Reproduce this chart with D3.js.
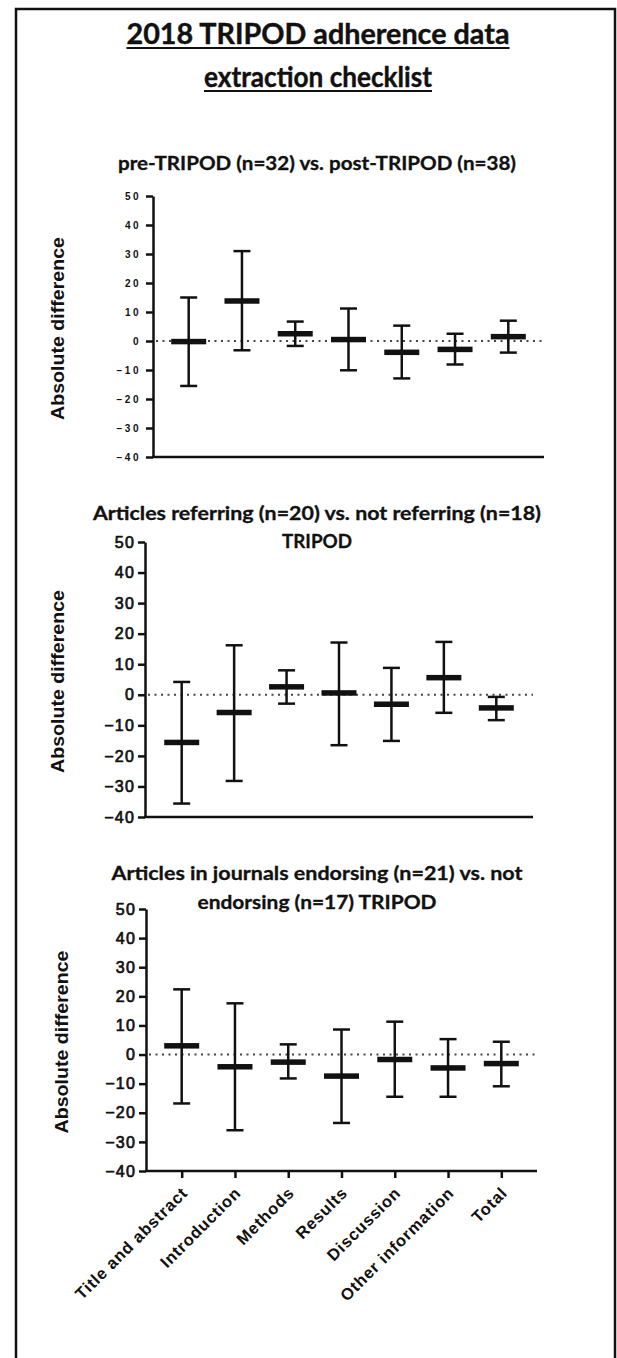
<!DOCTYPE html>
<html>
<head>
<meta charset="utf-8">
<script src="https://cdn.jsdelivr.net/npm/d3@7"></script>
<style>
  body { margin: 0; background: #fff; }
  .ax text { font-family: "Liberation Sans", Arial, sans-serif; }
</style>
</head>
<body>
<div id="chart"></div>
<script>
  'use strict';

  // categories and axis ticks
  var categories = ["Title and abstract", "Introduction", "Methods", "Results",
                    "Discussion", "Other information", "Total"];
  var yTicks = [50, 40, 30, 20, 10, 0, -10, -20, -30, -40];

  // pre-TRIPOD vs post-TRIPOD
  var preMean = [-0.2, 13.8, 2.5, 0.5, -3.9, -2.9, 1.5];
  var preLow  = [-15.5, -3.2, -1.7, -10.1, -12.9, -8.1, -4.0];
  var preHigh = [15.0, 31.0, 6.7, 11.2, 5.3, 2.5, 7.0];

  // referring vs not referring
  var refMean = [-15.6, -5.8, 2.6, 0.6, -3.1, 5.6, -4.3];
  var refLow  = [-35.6, -28.2, -2.9, -16.5, -15.1, -5.9, -8.3];
  var refHigh = [4.2, 16.2, 8.0, 17.1, 8.8, 17.3, -0.7];

  // endorsing vs not endorsing
  var endMean = [3.0, -4.2, -2.6, -7.4, -1.7, -4.6, -3.1];
  var endLow  = [-16.8, -26.0, -8.2, -23.5, -14.5, -14.5, -10.9];
  var endHigh = [22.4, 17.6, 3.5, 8.6, 11.3, 5.3, 4.4];

  var titleLines = ["2018 TRIPOD adherence data", "extraction checklist"];
  var subtitles = [
    ["pre-TRIPOD (n=32) vs. post-TRIPOD (n=38)"],
    ["Articles referring (n=20) vs. not referring (n=18)", "TRIPOD"],
    ["Articles in journals endorsing (n=21) vs. not", "endorsing (n=17) TRIPOD"]
  ];
  var yLabel = "Absolute difference";

  var width = 617, height = 1358;
  var headFont = "Lato, 'Open Sans', sans-serif";

  var svg = d3.select("#chart").append("svg")
    .attr("width", width)
    .attr("height", height);

  // page frame
  svg.append("rect")
    .attr("x", 16).attr("y", 9)
    .attr("width", 599).attr("height", 1370)
    .attr("fill", "none")
    .attr("stroke", "#111")
    .attr("stroke-width", 2.5);

  // main title, underlined
  var titleBase = [44, 87], titleLen = [383, 228];
  titleLines.forEach(function(t, i) {
    svg.append("text")
      .attr("x", 318).attr("y", titleBase[i])
      .attr("text-anchor", "middle")
      .attr("font-family", headFont)
      .attr("font-weight", "bold")
      .attr("font-size", "28px")
      .attr("textLength", titleLen[i])
      .attr("lengthAdjust", "spacingAndGlyphs")
      .attr("fill", "#111")
      .attr("stroke", "#111")
      .attr("stroke-width", 0.4)
      .text(t);
    svg.append("line")
      .attr("x1", 318 - titleLen[i] / 2).attr("x2", 318 + titleLen[i] / 2)
      .attr("y1", titleBase[i] + 4).attr("y2", titleBase[i] + 4)
      .attr("stroke", "#111").attr("stroke-width", 2);
  });

  var panels = [
    {mean: preMean, low: preLow, high: preHigh, sub: subtitles[0],
     left: 153, right: 544, top: 196, bottom: 457, pad: 0.67,
     subBase: [170], subLen: [398], labelX: 58, small: true, xLabels: false},
    {mean: refMean, low: refLow, high: refHigh, sub: subtitles[1],
     left: 145, right: 533, top: 542, bottom: 817, pad: 0.7,
     subBase: [520, 548], subLen: [448, 70], labelX: 58, small: false, xLabels: false},
    {mean: endMean, low: endLow, high: endHigh, sub: subtitles[2],
     left: 146, right: 537, top: 909, bottom: 1171, pad: 0.67,
     subBase: [880, 909], subLen: [411, 239], labelX: 62, small: false, xLabels: true}
  ];

  panels.forEach(drawPanel);

  function drawPanel(p) {
    var x = d3.scalePoint().domain(categories).range([p.left, p.right]).padding(p.pad);
    var y = d3.scaleLinear().domain([-40, 50]).range([p.bottom, p.top]);

    // subtitle
    p.sub.forEach(function(t, i) {
      svg.append("text")
        .attr("x", 317).attr("y", p.subBase[i])
        .attr("text-anchor", "middle")
        .attr("font-family", headFont)
        .attr("font-weight", "bold")
        .attr("font-size", "18px")
        .attr("textLength", p.subLen[i])
        .attr("lengthAdjust", "spacingAndGlyphs")
        .attr("fill", "#111")
        .attr("stroke", "#111")
        .attr("stroke-width", 0.3)
        .text(t);
    });

    var ax = svg.append("g").attr("class", "ax");

    // y axis
    var yAxis = ax.append("g")
      .attr("transform", "translate(" + p.left + ",0)")
      .call(d3.axisLeft(y).tickValues(yTicks).tickSize(7).tickSizeOuter(0).tickPadding(p.small ? 5 : 3));
    yAxis.attr("font-family", null);
    yAxis.select(".domain").attr("stroke", "#111").attr("stroke-width", 2.5);
    yAxis.selectAll(".tick line").attr("stroke", "#111").attr("stroke-width", 2.5);
    yAxis.selectAll(".tick text")
      .attr("fill", "#111")
      .style("font-weight", p.small ? "bold" : "normal")
      .style("font-size", p.small ? "10px" : "16px")
      .style("letter-spacing", p.small ? "2.5px" : "1.2px")
      .attr("stroke", p.small ? "none" : "#111")
      .attr("stroke-width", 0.7);

    // y axis title
    ax.append("text")
      .attr("transform", "translate(" + p.labelX + "," + ((p.top + p.bottom) / 2 + 2) + ") rotate(-90)")
      .attr("text-anchor", "middle")
      .attr("dominant-baseline", "central")
      .style("font-weight", "bold")
      .style("font-size", "18px")
      .attr("textLength", 183)
      .attr("lengthAdjust", "spacingAndGlyphs")
      .attr("fill", "#111")
      .text(yLabel);

    // x axis
    var xAxis = ax.append("g")
      .attr("transform", "translate(0," + p.bottom + ")")
      .call(d3.axisBottom(x).tickSize(p.xLabels ? 7 : 0).tickSizeOuter(0).tickFormat(""));
    xAxis.select(".domain").attr("stroke", "#111").attr("stroke-width", 2.5)
      .attr("d", "M" + (p.left - 1) + ",0H" + p.right);
    xAxis.selectAll(".tick line").attr("stroke", "#111").attr("stroke-width", 2.5);

    if (p.xLabels) {
      ax.append("g").selectAll("text")
        .data(categories)
        .enter().append("text")
        .attr("transform", function(d) {
          return "translate(" + (x(d) + 7) + "," + (p.bottom + 23) + ") rotate(-45)";
        })
        .attr("text-anchor", "end")
        .style("font-weight", "bold")
        .style("font-size", "16.5px")
        .style("letter-spacing", "0.8px")
        .attr("fill", "#111")
        .text(function(d) { return d; });
    }

    // zero reference
    svg.append("line")
      .attr("x1", p.left + 3).attr("x2", p.right)
      .attr("y1", y(0)).attr("y2", y(0))
      .attr("stroke", "#444")
      .attr("stroke-width", 2)
      .attr("stroke-dasharray", "2,4.5");

    var rows = categories.map(function(c, i) {
      return {cat: c, mean: p.mean[i], low: p.low[i], high: p.high[i]};
    });

    var g = svg.append("g");
    var bars = g.selectAll("g.bar").data(rows).enter().append("g").attr("class", "bar");

    bars.append("line")
      .attr("x1", function(d) { return x(d.cat); })
      .attr("x2", function(d) { return x(d.cat); })
      .attr("y1", function(d) { return y(d.low); })
      .attr("y2", function(d) { return y(d.high); })
      .attr("stroke", "#111").attr("stroke-width", 2.5);

    ["low", "high"].forEach(function(k) {
      bars.append("line")
        .attr("x1", function(d) { return x(d.cat) - 8.5; })
        .attr("x2", function(d) { return x(d.cat) + 8.5; })
        .attr("y1", function(d) { return y(d[k]); })
        .attr("y2", function(d) { return y(d[k]); })
        .attr("stroke", "#111").attr("stroke-width", 2.5);
    });

    bars.append("rect")
      .attr("x", function(d) { return x(d.cat) - 17.5; })
      .attr("y", function(d) { return y(d.mean) - 2.75; })
      .attr("width", 35)
      .attr("height", 5.5)
      .attr("fill", "#111");
  }
</script>
</body>
</html>
